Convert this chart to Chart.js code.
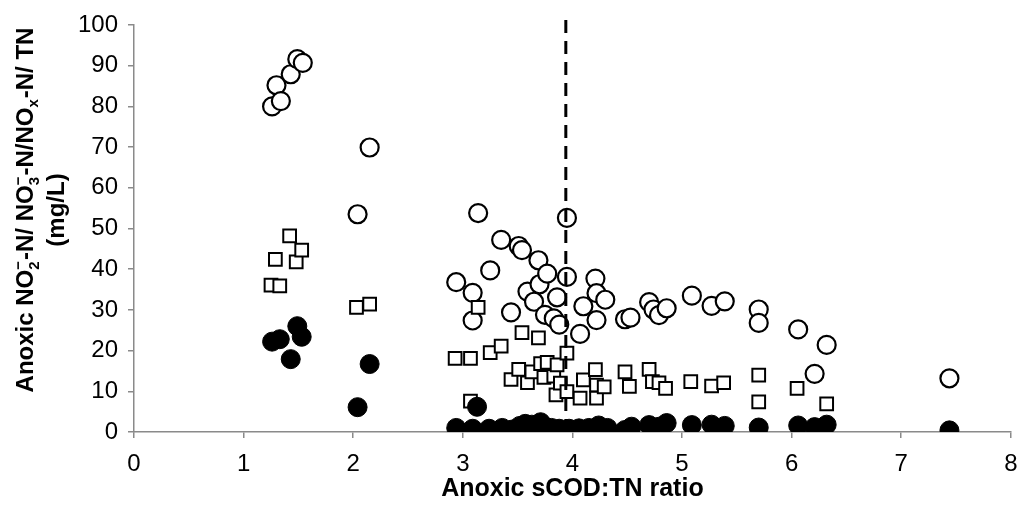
<!DOCTYPE html>
<html>
<head>
<meta charset="utf-8">
<script src="https://cdn.jsdelivr.net/npm/chart.js@4/dist/chart.umd.min.js"></script>
<style>
html,body{margin:0;padding:0;background:#fff;}
#wrap{width:1022px;height:511px;}
</style>
</head>
<body>
<div id="wrap"><canvas id="c" width="1022" height="511"></canvas></div>
<script>
// Open circles (TN)
const tnX = [1.26,1.30,1.34,1.43,1.49,1.54,2.04,2.15,2.94,3.09,3.09,3.14,3.25,3.35,3.44,3.51,3.54,3.59,3.65,3.69,3.70,3.75,3.77,3.83,3.86,3.88,3.95,3.95,4.07,4.10,4.21,4.22,4.22,4.30,4.48,4.53,4.70,4.74,4.79,4.86,5.09,5.27,5.39,5.70,5.70,6.06,6.21,6.32,7.44];
const tnY = [80.0,85.2,81.3,87.9,91.6,90.7,53.5,69.9,36.8,34.2,27.4,53.8,39.7,47.2,29.4,45.7,44.7,34.5,32.0,42.2,36.3,28.8,38.9,27.9,33.1,26.4,52.6,38.1,24.1,30.9,37.7,34.1,27.5,32.5,27.7,28.1,31.9,30.1,28.7,30.4,33.5,31.0,32.1,30.1,26.8,25.2,14.3,21.4,13.2];
// Open squares
const sqX = [1.25,1.29,1.33,1.42,1.48,1.53,2.03,2.15,2.93,3.07,3.07,3.14,3.25,3.35,3.44,3.51,3.54,3.59,3.63,3.69,3.71,3.74,3.77,3.83,3.85,3.86,3.89,3.95,3.95,4.07,4.10,4.21,4.22,4.22,4.29,4.48,4.52,4.70,4.73,4.79,4.85,5.08,5.27,5.38,5.70,5.70,6.05,6.32];
const sqY = [36.1,42.4,35.9,48.2,41.8,44.7,30.6,31.4,18.1,18.1,7.6,30.6,19.5,21.1,12.9,15.4,24.4,12.1,14.8,23.1,16.8,13.4,17.1,13.7,9.1,16.5,12.0,19.4,9.9,8.3,12.8,15.3,11.5,8.3,11.1,14.8,11.2,15.4,12.4,12.1,10.7,12.4,11.3,12.1,14.0,7.4,10.7,6.9];
// Filled circles
const niX = [1.26,1.33,1.43,1.49,1.53,2.04,2.15,2.94,3.09,3.13,3.24,3.36,3.45,3.52,3.57,3.63,3.71,3.76,3.81,3.88,3.97,4.06,4.15,4.24,4.32,4.48,4.54,4.70,4.79,4.86,5.09,5.27,5.39,5.70,6.06,6.21,6.32,7.44];
const niY = [22.2,22.8,17.9,26.0,23.4,6.1,16.7,1.0,0.8,6.2,0.8,1.0,0.6,1.5,2.0,1.8,2.4,1.2,1.0,0.8,0.8,0.9,1.0,1.6,1.0,0.5,1.3,1.7,1.3,2.2,1.7,1.8,1.5,1.1,1.6,1.2,1.8,0.4];
// Dashed threshold line
const cutX = [3.94,3.94];
const cutY = [0,103];
// Axis ticks
const xTicks = [0,1,2,3,4,5,6,7,8];
const yTicks = [0,10,20,30,40,50,60,70,80,90,100];
// Y axis title pieces: [text, kind] kind: n=normal, s=subscript, p=sub+sup stacked (sub text, sup text)
const yTitleLine1 = [['Anoxic NO','n'],['2|\u2212','p'],['-N/ NO','n'],['3|\u2212','p'],['-N/NO','n'],['x','s'],['-N/ TN','n']];
const yTitleLine2 = '(mg/L)';

const pts = (xs, ys) => xs.map((x,i)=>({x:x, y:ys[i]}));
const axisGrey = '#8a8a8a';
const fam = '"Liberation Sans", Arial, "DejaVu Sans", sans-serif';

const yTitlePlugin = {
  id:'yTitle',
  afterDraw(chart){
    const ctx = chart.ctx;
    const fs = 24, sfs = 15;
    const big = 'bold ' + fs + 'px ' + fam;
    const small = 'bold ' + sfs + 'px ' + fam;
    ctx.save();
    ctx.fillStyle = '#000';
    ctx.textBaseline = 'alphabetic';
    // measure line 1
    let total = 0;
    const widths = yTitleLine1.map(([t,k])=>{
      let w;
      if (k==='n'){ ctx.font = big; w = ctx.measureText(t).width; }
      else if (k==='s'){ ctx.font = small; w = ctx.measureText(t).width + 1; }
      else { ctx.font = small; const [a,b] = t.split('|'); w = Math.max(ctx.measureText(a).width, ctx.measureText(b).width) + 1; }
      total += w; return w;
    });
    const cy = 210;
    // line 1
    ctx.save();
    ctx.translate(33, cy);
    ctx.rotate(-Math.PI/2);
    let x = -total/2;
    yTitleLine1.forEach(([t,k],i)=>{
      if (k==='n'){ ctx.font = big; ctx.fillText(t, x, 0); }
      else if (k==='s'){ ctx.font = small; ctx.fillText(t, x, 5); }
      else { ctx.font = small; const [a,b] = t.split('|'); ctx.fillText(a, x, 6); ctx.fillText(b, x, -10); }
      x += widths[i];
    });
    ctx.restore();
    // line 2
    ctx.save();
    ctx.translate(64, cy);
    ctx.rotate(-Math.PI/2);
    ctx.font = big;
    ctx.textAlign = 'center';
    ctx.fillText(yTitleLine2, 0, 0);
    ctx.restore();
    ctx.restore();
  }
};

new Chart(document.getElementById('c'), {
  type: 'scatter',
  data: {
    datasets: [
      {label:'cut', type:'line', data: pts(cutX,cutY), borderColor:'#000', borderWidth:3, borderDash:[13,8], pointRadius:0, fill:false, clip:false, order:0},
      {label:'NO2', data: pts(niX,niY), pointStyle:'circle', pointRadius:9.5, backgroundColor:'#000', borderColor:'#000', borderWidth:1, order:1},
      {label:'NO3', data: pts(sqX,sqY), pointStyle:'rect', pointRadius:9, backgroundColor:'#fff', borderColor:'#000', borderWidth:2, order:2},
      {label:'TN', data: pts(tnX,tnY), pointStyle:'circle', pointRadius:9, backgroundColor:'#fff', borderColor:'#000', borderWidth:2.2, order:3}
    ]
  },
  plugins:[yTitlePlugin],
  options: {
    responsive:false,
    animation:false,
    layout:{padding:{top:25,right:9,left:0,bottom:0}},
    plugins:{legend:{display:false}, tooltip:{enabled:false}},
    scales:{
      x:{
        type:'linear', min:0, max:8,
        afterBuildTicks:(s)=>{ s.ticks = xTicks.map(v=>({value:v})); },
        afterFit:(s)=>{ s.height = 79; s.paddingLeft = 0; s.paddingRight = 0; },
        grid:{drawOnChartArea:false, drawTicks:true, tickLength:6, color:axisGrey, lineWidth:1.5},
        border:{display:true, color:axisGrey, width:1.5},
        ticks:{color:'#000', font:{family:fam, size:24}, padding:12, maxRotation:0},
        title:{display:true, text:'Anoxic sCOD:TN ratio', color:'#000', font:{family:fam, size:25, weight:'bold'}, padding:{top:0,bottom:7}}
      },
      y:{
        type:'linear', min:0, max:100,
        afterBuildTicks:(s)=>{ s.ticks = yTicks.map(v=>({value:v})); },
        afterFit:(s)=>{ s.width = 134; s.paddingTop = 0; s.paddingBottom = 0; },
        grid:{drawOnChartArea:false, drawTicks:true, tickLength:6, color:axisGrey, lineWidth:1.5},
        border:{display:true, color:axisGrey, width:1.5},
        ticks:{color:'#000', font:{family:fam, size:24}, padding:10},
        title:{display:false}
      }
    }
  }
});
</script>
</body>
</html>
